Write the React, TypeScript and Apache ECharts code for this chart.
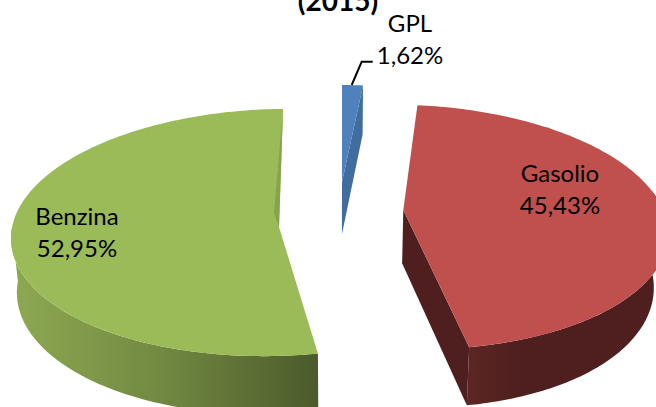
import React, { useEffect, useRef } from "react";
import * as echarts from "echarts";

const categories = ["GPL", "Gasolio", "Benzina"];
const shares = [1.62, 45.43, 52.95];
const labelTexts = ["1,62%", "45,43%", "52,95%"];
const titleText = "(2015)";

type Geo = {
  cx: number; cy: number; rx: number; ry: number; shear: number; start: number; squeeze: number;
  apex: number[]; top: string; side?: string; innerApex?: number[]; inner?: string;
  wall?: number[]; wallStops?: any[]; wallSpan?: number[];
  label: number[];
};

const geometry: Geo[] = [
  { cx: 342, cy: 182, rx: 207, ry: 97, shear: 0, start: 0, squeeze: 0, apex: [342, 182], top: "#4F81BD", side: "#416C9F", label: [410, 38] },
  { cx: 406, cy: 227, rx: 262, ry: 122.2, shear: 0.025, start: 2.5, squeeze: 0.000126, apex: [403.3, 210], top: "#C0504D", side: "#4E1F1E",
    wall: [70, 0], wallSpan: [468, 520], wallStops: [{ offset: 0, color: "#5C2624" }, { offset: 1, color: "#4E1F1E" }], label: [560, 188] },
  { cx: 276, cy: 232.5, rx: 265, ry: 123.5, shear: -0.022, start: 170.9, squeeze: 0, apex: [279, 227], innerApex: [274, 213], top: "#9BBB59", inner: "#86A34E",
    wall: [0, 275], wallSpan: [11, 319], wallStops: [{ offset: 0, color: "#8EA953" }, { offset: 0.5, color: "#718841" }, { offset: 1, color: "#4B5A2A" }], label: [77, 231] },
];

const rad = Math.PI / 180;
const rimPoint = (g: Geo, deg: number) => {
  const dx = g.rx * Math.sin(deg * rad);
  return [g.cx + dx, g.cy - g.ry * Math.cos(deg * rad) + g.shear * dx];
};
const lower = (g: Geo, p: number[]) => {
  const d = 338 - p[0];
  const s = 0.018 + g.squeeze * Math.max(0, Math.abs(d) - 132);
  return [p[0] + d * s, p[1] + 46 + 0.035 * p[1]];
};

function renderItem(params: any, api: any) {
  const i = params.dataIndex;
  const g = geometry[i];
  const total = shares.reduce((a, b) => a + b, 0);
  const sweep = (api.value(0) / total) * 360;
  const end = g.start + sweep;
  const arc: number[][] = [];
  const steps = Math.max(4, Math.ceil(sweep));
  for (let k = 0; k <= steps; k++) arc.push(rimPoint(g, g.start + (sweep * k) / steps));
  const children: any[] = [];

  if (g.wall) {
    const a = g.wall[0] || g.start;
    const b = g.wall[1] || end;
    const up: number[][] = [];
    for (let d = a; d < b; d += 1) up.push(rimPoint(g, d));
    up.push(rimPoint(g, b));
    const pts = up.concat(up.map((p) => lower(g, p)).reverse());
    children.push({
      type: "polygon",
      shape: { points: pts },
      style: {
        fill: new echarts.graphic.LinearGradient(g.wallSpan![0], 0, g.wallSpan![1], 0, g.wallStops!, true),
      },
    });
  }
  if (g.side) {
    const e = rimPoint(g, end);
    children.push({
      type: "polygon",
      shape: { points: [e, lower(g, e), lower(g, g.apex), g.apex] },
      style: { fill: g.side },
    });
  }
  children.push({
    type: "polygon",
    shape: { points: arc.concat([g.apex]) },
    style: { fill: g.top },
  });
  if (g.innerApex) {
    children.push({
      type: "polygon",
      shape: { points: [rimPoint(g, end), g.innerApex, g.apex] },
      style: { fill: g.inner },
    });
  }
  if (i === 0) {
    children.push({
      type: "polyline",
      shape: { points: [[351.7, 85], [361.7, 61.7], [372.7, 61.7]] },
      style: { stroke: "#000", lineWidth: 2, fill: "none" },
    });
  }
  children.push({
    type: "text",
    style: {
      text: `${categories[i]}\n${labelTexts[i]}`,
      x: g.label[0],
      y: g.label[1],
      align: "center",
      verticalAlign: "middle",
      fontFamily: "Lato",
      fontSize: 24,
      lineHeight: 32,
      fill: "#000",
    },
  });
  return { type: "group", children };
}

export default function App() {
  const ref = useRef<HTMLDivElement>(null);
  useEffect(() => {
    document.body.style.margin = "0";
    const chart = echarts.init(ref.current!, undefined, { renderer: "svg" });
    chart.setOption({
      animation: false,
      backgroundColor: "#fff",
      title: {
        text: titleText,
        left: 333,
        top: -19,
        textAlign: "center",
        textStyle: { fontFamily: "Lato", fontWeight: "bold", fontSize: 28, color: "#000" },
      },
      series: [
        {
          type: "custom",
          coordinateSystem: "none",
          renderItem,
          data: shares.map((v) => [v]),
          clip: false,
        },
      ],
    });
    return () => chart.dispose();
  }, []);
  return <div ref={ref} style={{ width: 656, height: 407, overflow: "hidden" }} />;
}
